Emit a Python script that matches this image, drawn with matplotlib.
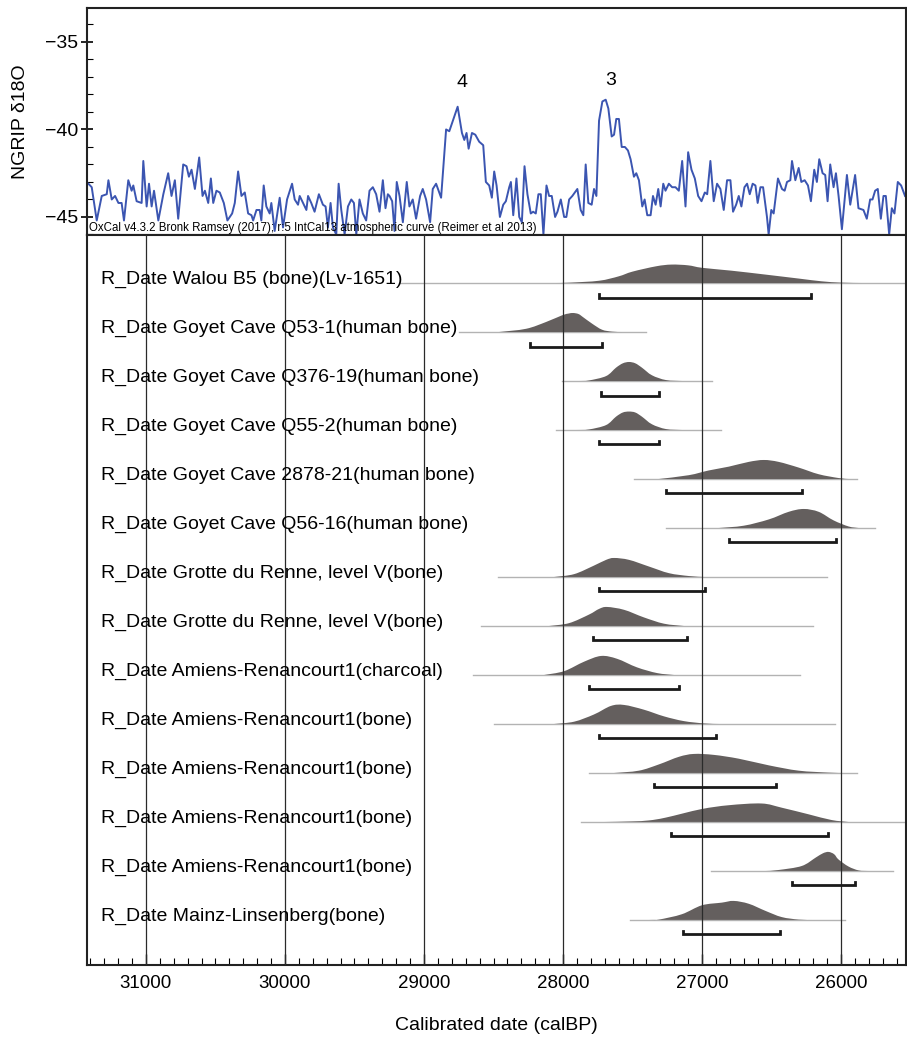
import matplotlib
matplotlib.use('Agg')
import matplotlib.pyplot as plt
import matplotlib.transforms as mtransforms
from matplotlib.path import Path
from matplotlib.patches import PathPatch
from matplotlib.ticker import MultipleLocator, StrMethodFormatter

plt.rcParams['font.family'] = ['Liberation Sans', 'DejaVu Sans']

# NGRIP d18O curve, (age calBP, d18O)
ngrip = [
    (31414, -43.1), (31390, -43.3), (31354, -45.2), (31318, -43.8), (31282, -43.7), (31270, -42.9),
    (31246, -44.0), (31222, -43.8), (31198, -44.2), (31175, -44.2), (31158, -45.2), (31127, -42.9),
    (31103, -43.5), (31091, -43.2), (31067, -44.1), (31031, -44.2), (31019, -41.8), (30995, -44.4),
    (30978, -43.1), (30959, -44.4), (30942, -43.5), (30911, -45.2), (30875, -43.7), (30840, -42.5),
    (30816, -43.8), (30792, -42.9), (30768, -45.1), (30732, -42.0), (30708, -42.1), (30691, -42.7),
    (30672, -42.3), (30648, -43.4), (30617, -41.6), (30593, -43.8), (30576, -43.5), (30552, -44.2),
    (30533, -42.8), (30516, -44.2), (30493, -43.5), (30469, -43.6), (30440, -44.2), (30414, -45.2),
    (30380, -44.8), (30361, -44.2), (30337, -42.4), (30313, -43.8), (30289, -43.6), (30265, -44.8),
    (30241, -44.9), (30229, -45.2), (30205, -44.6), (30182, -44.6), (30170, -45.2), (30153, -43.2),
    (30134, -44.4), (30110, -44.8), (30098, -44.2), (30074, -45.8), (30038, -43.9), (30014, -45.6),
    (29985, -44.0), (29949, -43.1), (29930, -44.0), (29906, -44.3), (29894, -43.8), (29870, -44.2),
    (29846, -44.6), (29834, -43.8), (29811, -44.2), (29787, -44.7), (29756, -43.7), (29727, -44.3),
    (29708, -44.4), (29691, -45.6), (29672, -44.2), (29655, -45.6), (29631, -46.0), (29614, -43.1),
    (29595, -44.6), (29571, -46.0), (29547, -44.4), (29523, -44.0), (29504, -44.2), (29487, -46.0),
    (29464, -44.0), (29440, -44.8), (29416, -45.2), (29392, -43.5), (29368, -43.3), (29344, -43.7),
    (29320, -44.7), (29296, -42.9), (29277, -44.5), (29260, -43.7), (29248, -43.8), (29229, -44.1),
    (29212, -45.8), (29196, -43.0), (29176, -43.8), (29152, -45.3), (29124, -43.0), (29105, -44.4),
    (29081, -44.0), (29057, -45.1), (29028, -43.8), (29009, -43.4), (28985, -44.0), (28956, -45.3),
    (28937, -43.4), (28913, -43.1), (28877, -43.9), (28841, -40.0), (28818, -40.1), (28758, -38.7),
    (28727, -40.2), (28710, -40.6), (28694, -40.2), (28679, -41.1), (28655, -40.2), (28631, -40.3),
    (28603, -40.7), (28574, -40.9), (28555, -43.0), (28531, -43.2), (28512, -43.9), (28495, -42.4),
    (28478, -43.2), (28454, -45.0), (28430, -44.3), (28411, -44.1), (28387, -43.3), (28375, -43.0),
    (28358, -44.9), (28335, -42.8), (28315, -45.0), (28296, -45.3), (28277, -42.1), (28256, -43.7),
    (28232, -44.8), (28215, -44.7), (28196, -44.8), (28177, -43.7), (28160, -43.7), (28141, -46.0),
    (28119, -43.2), (28100, -43.8), (28081, -43.8), (28057, -45.0), (28040, -44.7), (28016, -44.0),
    (27992, -45.0), (27976, -45.0), (27956, -44.0), (27933, -43.8), (27897, -43.4), (27873, -44.6),
    (27854, -44.9), (27837, -42.0), (27818, -44.2), (27794, -44.3), (27777, -43.4), (27760, -43.8),
    (27741, -39.5), (27717, -38.4), (27693, -38.3), (27674, -38.8), (27650, -40.4), (27633, -40.3),
    (27617, -39.4), (27598, -39.4), (27578, -41.0), (27555, -41.0), (27533, -41.2), (27514, -41.7),
    (27490, -42.7), (27473, -42.5), (27454, -42.9), (27430, -44.4), (27413, -44.0), (27394, -44.9),
    (27370, -44.9), (27353, -43.8), (27334, -44.3), (27315, -43.4), (27298, -44.4), (27279, -43.1),
    (27263, -43.5), (27239, -43.1), (27215, -43.3), (27191, -43.3), (27167, -43.5), (27143, -41.8),
    (27119, -44.4), (27100, -41.3), (27076, -42.3), (27052, -42.8), (27028, -43.8), (27004, -44.1),
    (26980, -43.6), (26963, -43.7), (26940, -41.8), (26916, -44.1), (26892, -43.1), (26868, -43.4),
    (26844, -44.6), (26820, -42.9), (26796, -42.9), (26777, -44.7), (26755, -44.3), (26736, -43.8),
    (26717, -44.4), (26695, -43.3), (26676, -43.1), (26657, -43.7), (26636, -43.1), (26616, -43.2),
    (26600, -44.2), (26580, -43.3), (26561, -43.3), (26533, -45.0), (26521, -46.0), (26502, -44.6),
    (26485, -44.8), (26454, -42.8), (26425, -43.4), (26406, -43.5), (26389, -43.0), (26365, -42.9),
    (26353, -41.8), (26329, -42.9), (26305, -42.2), (26286, -43.0), (26262, -42.9), (26238, -43.2),
    (26217, -44.1), (26193, -42.3), (26174, -43.0), (26157, -41.7), (26133, -42.5), (26114, -42.6),
    (26097, -44.1), (26078, -42.0), (26054, -43.3), (26037, -42.5), (26018, -43.8), (25994, -45.7),
    (25958, -42.6), (25934, -44.3), (25899, -42.6), (25875, -44.5), (25839, -44.6), (25815, -45.1),
    (25791, -44.0), (25774, -44.0), (25755, -43.5), (25736, -43.4), (25714, -45.1), (25695, -43.8),
    (25678, -43.8), (25654, -46.0), (25635, -44.5), (25616, -44.8), (25592, -43.0), (25568, -43.2),
    (25540, -43.8),
]
ngrip_age = [a for a, v in ngrip]
ngrip_d18o = [v for a, v in ngrip]

events = ['4', '3']
event_age = [28724, 27655]
event_d18o = [-37.3, -37.2]

labels = [
    'R_Date Walou B5 (bone)(Lv-1651)',
    'R_Date Goyet Cave Q53-1(human bone)',
    'R_Date Goyet Cave Q376-19(human bone)',
    'R_Date Goyet Cave Q55-2(human bone)',
    'R_Date Goyet Cave 2878-21(human bone)',
    'R_Date Goyet Cave Q56-16(human bone)',
    'R_Date Grotte du Renne, level V(bone)',
    'R_Date Grotte du Renne, level V(bone)',
    'R_Date Amiens-Renancourt1(charcoal)',
    'R_Date Amiens-Renancourt1(bone)',
    'R_Date Amiens-Renancourt1(bone)',
    'R_Date Amiens-Renancourt1(bone)',
    'R_Date Amiens-Renancourt1(bone)',
    'R_Date Mainz-Linsenberg(bone)',
]

# extent of the thin grey line under each distribution
spans = [(29177, 25400), (28746, 27403), (28006, 26930), (28049, 26865), (27489, 25889),
         (27260, 25759), (28466, 26104), (28588, 26204), (28645, 26298), (28495, 26046),
         (27813, 25889), (27870, 25400), (26937, 25630), (27518, 25975)]

# 95.4% ranges (brackets)
ranges = [(27741, 26219), (28236, 27719), (27726, 27310), (27741, 27310), (27260, 26283),
          (26807, 26039), (27741, 26980), (27784, 27109), (27813, 27166), (27741, 26901),
          (27346, 26470), (27224, 26097), (26355, 25903), (27138, 26441)]

# calibrated probability shapes: (age, relative height)
dists = [
    [(28050, 0), (27950, 0.02), (27740, 0.12), (27600, 0.35), (27500, 0.6), (27330, 0.88), (27220, 0.97),
     (27100, 0.93), (27000, 0.8), (26790, 0.65), (26540, 0.44), (26300, 0.23), (26140, 0.09), (26000, 0.02), (25850, 0)],
    [(28460, 0), (28265, 0.17), (28121, 0.53), (28006, 0.88), (27960, 0.97), (27927, 1.0), (27890, 0.95),
     (27863, 0.82), (27791, 0.44), (27719, 0.12), (27647, 0.02), (27580, 0)],
    [(27880, 0), (27813, 0.03), (27690, 0.26), (27619, 0.7), (27570, 0.93), (27525, 1.0), (27480, 0.93),
     (27432, 0.7), (27360, 0.3), (27260, 0.05), (27145, 0)],
    [(27900, 0), (27813, 0.03), (27690, 0.26), (27619, 0.7), (27570, 0.92), (27525, 0.97), (27480, 0.92),
     (27432, 0.7), (27360, 0.3), (27260, 0.05), (27145, 0)],
    [(27310, 0), (27095, 0.2), (26951, 0.45), (26807, 0.65), (26664, 0.9), (26556, 1.0), (26449, 0.9),
     (26305, 0.6), (26161, 0.25), (26018, 0.05), (25946, 0)],
    [(26879, 0), (26700, 0.12), (26520, 0.45), (26377, 0.85), (26269, 1.0), (26161, 0.85), (26054, 0.4),
     (25946, 0.08), (25874, 0)],
    [(28064, 0), (27920, 0.15), (27777, 0.6), (27690, 0.9), (27633, 1.0), (27525, 0.9), (27382, 0.55),
     (27238, 0.2), (27095, 0.05), (26987, 0)],
    [(28100, 0), (27956, 0.15), (27813, 0.6), (27740, 0.9), (27683, 1.0), (27561, 0.85), (27418, 0.45),
     (27274, 0.12), (27131, 0)],
    [(28136, 0), (27992, 0.2), (27848, 0.7), (27726, 1.0), (27611, 0.85), (27468, 0.4), (27324, 0.1), (27202, 0)],
    [(28064, 0), (27920, 0.12), (27777, 0.5), (27655, 0.95), (27561, 1.0), (27418, 0.75), (27274, 0.4),
     (27131, 0.15), (26987, 0.03), (26879, 0)],
    [(27633, 0), (27454, 0.12), (27310, 0.45), (27166, 0.85), (27059, 1.0), (26915, 0.95), (26736, 0.75),
     (26520, 0.4), (26305, 0.12), (26090, 0.02), (25982, 0)],
    [(27700, 0), (27504, 0.03), (27382, 0.08), (27260, 0.23), (27008, 0.67), (26807, 0.88), (26571, 0.97),
     (26427, 0.75), (26233, 0.4), (26068, 0.1), (25946, 0)],
    [(26542, 0), (26449, 0.05), (26283, 0.26), (26183, 0.7), (26130, 0.93), (26090, 1.0), (26050, 0.88),
     (26018, 0.6), (25946, 0.23), (25874, 0.03), (25802, 0)],
    [(27382, 0), (27310, 0.02), (27145, 0.3), (27001, 0.77), (26858, 0.91), (26772, 1.0), (26664, 0.85),
     (26542, 0.47), (26427, 0.15), (26305, 0.02), (26197, 0)],
]

caption = 'OxCal v4.3.2 Bronk Ramsey (2017); r:5 IntCal13 atmospheric curve (Reimer et al 2013)'


def smooth_patch(pts, base, scale):
    # curve through the read points (Catmull-Rom drawn as cubic Bezier)
    p = [(a, base - h * scale) for a, h in pts]
    n = len(p)
    verts = [(p[0][0], base), p[0]]
    codes = [Path.MOVETO, Path.LINETO]
    for k in range(n - 1):
        p0 = p[k - 1] if k > 0 else p[k]
        p1, p2 = p[k], p[k + 1]
        p3 = p[k + 2] if k + 2 < n else p[k + 1]
        c1 = (p1[0] + (p2[0] - p0[0]) / 6, p1[1] + (p2[1] - p0[1]) / 6)
        c2 = (p2[0] - (p3[0] - p1[0]) / 6, p2[1] - (p3[1] - p1[1]) / 6)
        verts += [c1, c2, p2]
        codes += [Path.CURVE4] * 3
    verts += [(p[-1][0], base), (p[0][0], base)]
    codes += [Path.LINETO, Path.CLOSEPOLY]
    return Path(verts, codes)


W, H = 907, 1038
fig = plt.figure(figsize=(W / 100, H / 100), dpi=100)
ax1 = fig.add_axes([87 / W, 1 - 235 / H, 819 / W, 227 / H])
ax2 = fig.add_axes([87 / W, 1 - 965 / H, 819 / W, 730 / H])

xlim = (31424, 25533)

# top panel: NGRIP curve
ax1.plot(ngrip_age, ngrip_d18o, color='#3b55b1', lw=1.4, zorder=2)
for lab, a, v in zip(events, event_age, event_d18o):
    ax1.text(a, v, lab, ha='center', va='center', fontsize=14)
ax1.text(0.002, 0.004, caption, transform=ax1.transAxes, fontsize=8.3, ha='left', va='bottom', zorder=5)
ax1.set_xlim(xlim)
ax1.set_ylim(-46.03, -33.06)
ax1.set_xticks([])
ax1.yaxis.set_major_locator(MultipleLocator(5))
ax1.yaxis.set_minor_locator(MultipleLocator(1))
ax1.tick_params(axis='y', which='major', direction='inout', length=9, width=1.2, labelsize=14, pad=2)
ax1.tick_params(axis='y', which='minor', direction='in', length=4, width=0.8)
ax1.set_ylabel('NGRIP δ18O', fontsize=14)
ax1.yaxis.set_label_coords(-0.071, 0.5)

# bottom panel: calibrated dates
ax2.set_xlim(xlim)
ax2.set_ylim(13.92, -0.98)
ax2.set_yticks([])
for g in range(26000, 31001, 1000):
    ax2.axvline(g, color='#2a2a2a', lw=0.9, zorder=3)

hscale = 0.388
trans = mtransforms.blended_transform_factory(ax2.transAxes, ax2.transData)
for i, (lab, sp, rg, d) in enumerate(zip(labels, spans, ranges, dists)):
    ax2.plot(sp, [i, i], color='#b3b3b3', lw=1.0, zorder=1)
    ax2.add_patch(PathPatch(smooth_patch(d, i, hscale), facecolor='#645f5e', lw=0, zorder=2))
    yb = i + 0.296
    ax2.plot([rg[0], rg[0], rg[1], rg[1]], [yb - 0.07, yb, yb, yb - 0.07],
             color='#1a1a1a', lw=2, zorder=4, solid_joinstyle='miter')
    ax2.text(0.017, i - 0.07, lab, transform=trans, fontsize=14, ha='left', va='center', zorder=5)

ax2.xaxis.set_major_locator(MultipleLocator(1000))
ax2.xaxis.set_minor_locator(MultipleLocator(100))
ax2.xaxis.set_major_formatter(StrMethodFormatter('{x:.0f}'))
ax2.tick_params(axis='x', which='major', direction='in', length=8, width=1, labelsize=13.5, pad=7)
ax2.tick_params(axis='x', which='minor', direction='in', length=5, width=0.8)
ax2.set_xlabel('Calibrated date (calBP)', fontsize=14)
ax2.xaxis.set_label_coords(0.5, -0.071)

for ax in (ax1, ax2):
    for s in ax.spines.values():
        s.set_linewidth(1.5)
        s.set_color('#222222')

fig.savefig('out.png', dpi=100)
